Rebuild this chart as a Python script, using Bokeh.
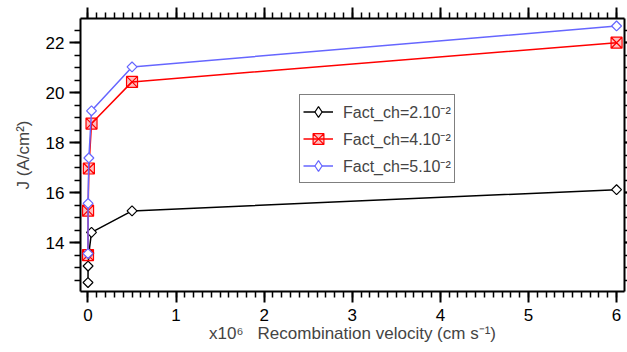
import numpy as np
from bokeh.plotting import figure
from bokeh.models import (Range1d, LinearAxis, SingleIntervalTicker, Legend, LegendItem,
                          ColumnDataSource)
from bokeh.embed import file_html
from bokeh.resources import INLINE

# Recombination velocity (x10^6 cm/s)
x_vals = [0.0001, 0.001, 0.01, 0.04, 0.5, 6.0]
j_fact2 = [12.40, 13.06, 13.58, 14.41, 15.27, 16.12]
j_fact4 = [13.50, 15.28, 16.97, 18.77, 20.44, 22.01]
j_fact5 = [13.56, 15.57, 17.39, 19.28, 21.04, 22.68]
labels = ["Fact_ch=2.10\u207b\u00b2", "Fact_ch=4.10\u207b\u00b2", "Fact_ch=5.10\u207b\u00b2"]

FONT = "Liberation Sans"
BLUE = "#6666ff"

src = ColumnDataSource(dict(x=x_vals, j2=j_fact2, j4=j_fact4, j5=j_fact5))

p = figure(width=627, height=352, output_backend="svg", toolbar_location=None,
           x_range=Range1d(-0.085, 6.09), y_range=Range1d(12.04, 22.98),
           min_border_left=80, min_border_right=3, min_border_top=18, min_border_bottom=61,
           x_axis_location=None, y_axis_location=None)
p.outline_line_color = None
p.xgrid.visible = False
p.ygrid.visible = False
p.background_fill_color = "white"
p.border_fill_color = "white"

def style_axis(ax, labels_on, tick_out, minor_out):
    ax.axis_line_width = 2
    ax.axis_line_color = "black"
    ax.major_tick_line_width = 2
    ax.minor_tick_line_width = 1.5
    ax.major_tick_in = 0
    ax.minor_tick_in = 0
    ax.major_tick_out = tick_out
    ax.minor_tick_out = minor_out
    ax.major_label_text_font = FONT
    ax.axis_label_text_font = FONT
    ax.axis_label_text_font_style = "normal"
    ax.axis_label_text_font_size = "17px"
    if labels_on:
        ax.major_label_text_font_size = "17px"
        ax.major_label_text_color = "black"
    else:
        ax.major_label_text_font_size = "1px"
        ax.major_label_text_color = None
        ax.major_label_standoff = 0

xt = lambda: SingleIntervalTicker(interval=1, num_minor_ticks=10)
yt = lambda: SingleIntervalTicker(interval=2, num_minor_ticks=4)

xb = LinearAxis(ticker=xt(),
                axis_label="x10\u2076\u00a0\u00a0 Recombination velocity (cm s\u207b\u00b9)")
style_axis(xb, True, 11, 6)
xb.major_label_standoff = 6
xb.axis_label_standoff = 0
p.add_layout(xb, "below")

xa = LinearAxis(ticker=xt())
style_axis(xa, False, 11, 6)
p.add_layout(xa, "above")

yl = LinearAxis(ticker=yt(), axis_label="J (A/cm\u00b2)")
style_axis(yl, True, 11, 6)
yl.major_label_standoff = 5
yl.axis_label_standoff = 10
p.add_layout(yl, "left")

yr = LinearAxis(ticker=yt())
style_axis(yr, False, 3, 3)
p.add_layout(yr, "right")

# series
l1 = p.line("x", "j2", source=src, line_color="black", line_width=1.5)
m1 = p.scatter("x", "j2", source=src, marker="square", angle=np.pi / 4, size=7,
               line_color="black", fill_color="white", line_width=1.2)
l2 = p.line("x", "j4", source=src, line_color="red", line_width=1.5)
m2 = p.scatter("x", "j4", source=src, marker="square_x", size=11,
               line_color="red", fill_color="red", fill_alpha=0.25, line_width=1.2)
l3 = p.line("x", "j5", source=src, line_color=BLUE, line_width=1.5)
m3 = p.scatter("x", "j5", source=src, marker="square", angle=np.pi / 4, size=7,
               line_color=BLUE, fill_color="white", line_width=1.2)

# legend-only diamond markers (legend glyphs ignore marker angle); size 0 -> invisible in plot
d1 = p.scatter("x", "j2", source=src, marker="diamond", size=0,
               line_color="black", fill_color="white", line_width=1.2)
d3 = p.scatter("x", "j5", source=src, marker="diamond", size=0,
               line_color=BLUE, fill_color="white", line_width=1.2)

legend = Legend(items=[LegendItem(label=labels[0], renderers=[l1, d1]),
                       LegendItem(label=labels[1], renderers=[l2, m2]),
                       LegendItem(label=labels[2], renderers=[l3, d3])],
                location=(219, 108))
legend.label_text_font = FONT
legend.label_text_font_size = "16px"
legend.glyph_width = 30
legend.glyph_height = 27
legend.label_height = 27
legend.label_standoff = 10
legend.spacing = -1
legend.padding = 3
legend.margin = 0
legend.border_line_color = "black"
legend.border_line_width = 1
legend.background_fill_color = "white"
legend.background_fill_alpha = 1
p.add_layout(legend, "center")

open("out.html", "w").write(file_html(p, INLINE))
